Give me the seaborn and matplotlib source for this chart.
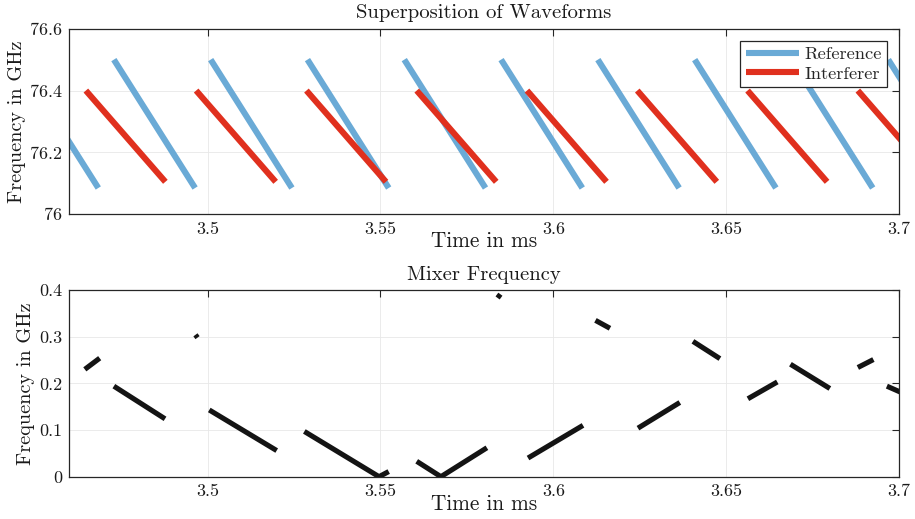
import numpy as np
import pandas as pd
import matplotlib
matplotlib.use("Agg")
import matplotlib.pyplot as plt
from matplotlib.lines import Line2D
import seaborn as sns

# Reference chirps (Time in ms, Frequency in GHz)
ref_start = [3.4449, 3.4729, 3.5009, 3.5289, 3.5569, 3.5849, 3.6129, 3.6409, 3.6689, 3.6969]
ref_end = [3.4684, 3.4964, 3.5244, 3.5524, 3.5804, 3.6084, 3.6364, 3.6644, 3.6924, 3.7204]
ref_f_high = 76.5
ref_f_low = 76.085

# Interferer chirps
int_start = [3.4648, 3.4967, 3.5286, 3.5605, 3.5924, 3.6243, 3.6562, 3.6881]
int_end = [3.4878, 3.5197, 3.5516, 3.5835, 3.6154, 3.6473, 3.6792, 3.7111]
int_f_high = 76.4
int_f_low = 76.105

# Mixer frequency pieces
mix_t = [
    [3.4645, 3.4688], [3.4729, 3.4877], [3.4965, 3.4971], [3.5005, 3.5200],
    [3.5280, 3.5496, 3.5524], [3.5605, 3.5675, 3.5808], [3.5839, 3.5847],
    [3.5927, 3.6086], [3.6122, 3.6164], [3.6245, 3.6366], [3.6404, 3.6482],
    [3.6563, 3.6648], [3.6686, 3.6800], [3.6881, 3.6926], [3.6965, 3.7005],
]
mix_f = [
    [0.230, 0.254], [0.194, 0.124], [0.304, 0.298], [0.143, 0.056],
    [0.097, 0.0, 0.011], [0.033, 0.0, 0.062], [0.383, 0.391],
    [0.040, 0.110], [0.335, 0.318], [0.104, 0.159], [0.290, 0.253],
    [0.167, 0.203], [0.241, 0.189], [0.234, 0.251], [0.194, 0.181],
]

x_ticks = [3.5, 3.55, 3.6, 3.65, 3.7]
top_yticks = [76, 76.2, 76.4, 76.6]
bot_yticks = [0, 0.1, 0.2, 0.3, 0.4]

BLUE = '#6aaad6'
RED = '#e0301e'
BLACK = '#141414'
AXC = '#262626'
TXT = '#1a1a1a'

sns.set_style("white")
plt.rcParams['font.family'] = ['cmr10', 'DejaVu Serif']
plt.rcParams['axes.formatter.use_mathtext'] = True
plt.rcParams['mathtext.fontset'] = 'cm'


def chirp_frame(starts, ends, f_hi, f_lo, name):
    rows = []
    for i, (a, b) in enumerate(zip(starts, ends)):
        rows.append((name, f"{name}{i}", a, f_hi))
        rows.append((name, f"{name}{i}", b, f_lo))
    return pd.DataFrame(rows, columns=['signal', 'seg', 't', 'f'])


wave_df = pd.concat([
    chirp_frame(ref_start, ref_end, ref_f_high, ref_f_low, 'Reference'),
    chirp_frame(int_start, int_end, int_f_high, int_f_low, 'Interferer'),
], ignore_index=True)

mix_rows = []
for i, (ts, fs) in enumerate(zip(mix_t, mix_f)):
    for t, f in zip(ts, fs):
        mix_rows.append((i, t, f))
mix_df = pd.DataFrame(mix_rows, columns=['seg', 't', 'f'])

fig = plt.figure(figsize=(9.15, 5.19), dpi=100)
ax1 = fig.add_axes([0.0757, 0.5871, 0.9068, 0.3576])
ax2 = fig.add_axes([0.0757, 0.0815, 0.9068, 0.3597])

sns.lineplot(data=wave_df, x='t', y='f', hue='signal', units='seg', estimator=None,
             palette={'Reference': BLUE, 'Interferer': RED}, sort=False,
             linewidth=4.4, legend=False, ax=ax1)
sns.lineplot(data=mix_df, x='t', y='f', units='seg', estimator=None, sort=False,
             color=BLACK, linewidth=3.7, legend=False, ax=ax2)

for ln in ax1.lines + ax2.lines:
    ln.set_solid_capstyle('butt')
    ln.set_solid_joinstyle('miter')

def style_axes(ax, yticks, ylim, title):
    ax.set_xlim(3.46, 3.7)
    ax.set_ylim(*ylim)
    ax.set_xticks(x_ticks)
    ax.set_xticklabels([f"{v:g}" for v in x_ticks])
    ax.set_yticks(yticks)
    ax.set_yticklabels([f"{v:g}" for v in yticks])
    ax.grid(True, color='#e8e8e8', linewidth=0.6)
    ax.set_axisbelow(True)
    for s in ax.spines.values():
        s.set_color(AXC)
        s.set_linewidth(0.9)
    ax.tick_params(direction='in', length=5, width=0.8, color=AXC,
                   top=True, right=True, labelsize=13, labelcolor=TXT, pad=5)
    ax.set_xlabel('Time in ms', fontsize=15.3, labelpad=-3.5, color=TXT)
    ax.set_ylabel('Frequency in GHz', fontsize=14.6, labelpad=3, color=TXT)
    ax.set_title(title, fontsize=14.9, pad=7.5, color=TXT)

style_axes(ax1, top_yticks, (76, 76.6), 'Superposition of Waveforms')
style_axes(ax2, bot_yticks, (0, 0.4), 'Mixer Frequency')

handles = [Line2D([], [], color=BLUE, linewidth=4.4, solid_capstyle='butt'),
           Line2D([], [], color=RED, linewidth=4.4, solid_capstyle='butt')]
leg = ax1.legend(handles, ['Reference', 'Interferer'], loc='upper right',
                 fontsize=13.3, frameon=True, fancybox=False, framealpha=1,
                 handlelength=2.9, handletextpad=0.25, borderpad=0.3,
                 labelspacing=0.2, borderaxespad=0.65)
leg.get_frame().set_edgecolor(AXC)
leg.get_frame().set_linewidth(0.9)

fig.savefig('out.png', dpi=100)
plt.close(fig)
